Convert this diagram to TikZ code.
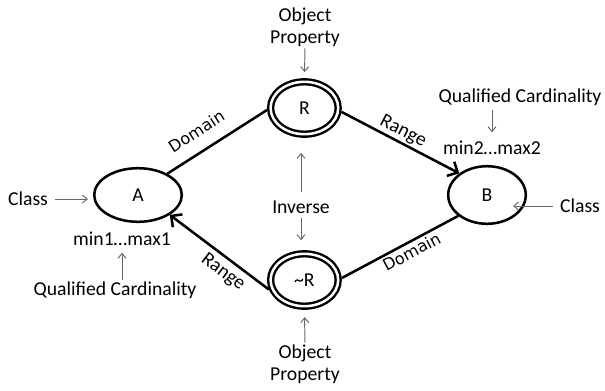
\documentclass[tikz,border=0pt]{standalone}
\usepackage{fontspec}
\setmainfont{Carlito}
\newfontfamily\dejavu{DejaVu Sans}
\usetikzlibrary{shapes.geometric, arrows.meta}
\definecolor{notegray}{RGB}{105,105,105}

\begin{document}
\begin{tikzpicture}[
  font=\fontsize{14}{16}\selectfont,
  classnode/.style={draw, ellipse, line width=1.8pt, inner sep=0pt},
  propnode/.style={draw, ellipse, double, double distance=1.8pt, line width=1.7pt, minimum width=1.69cm, minimum height=1.31cm, inner sep=0pt, outer sep=2.6pt},
  note/.style={inner sep=1pt, align=center},
  link/.style={line width=1.8pt},
  linkarrow/.style={link, -{Straight Barb[length=2mm, width=4mm]}},
  linkback/.style={link, {Straight Barb[length=2mm, width=4mm]}-},
  pointer/.style={notegray, line width=0.7pt, -{Straight Barb[length=1.2mm, width=2mm]}},
  rolelabel/.style={font=\dejavu\fontsize{11.5}{14}\selectfont, inner sep=1pt, sloped},
  rangelabel/.style={inner sep=1pt, sloped}
]
  \useasboundingbox (0,0) rectangle (15.125,-9.75);

  % Classes and properties
  \node[classnode, minimum width=2.19cm, minimum height=1.34cm] (A) at (3.45,-4.875) {A};
  \node[classnode, minimum width=1.94cm, minimum height=1.44cm] (B) at (12.175,-4.875) {B};
  \node[propnode] (R) at (7.61,-2.70) {R};
  \node[propnode] (nR) at (7.61,-7.00) {\textasciitilde R};

  % Domain and range edges
  \draw[link] (A.36) -- node[rolelabel, above=2.8mm, pos=0.4] {Domain} (R.183);
  \draw[linkarrow] (R.354) -- node[rangelabel, above=0mm, pos=0.48] {Range} (B.142);
  \draw[linkback] (A.328) -- node[rangelabel, below=0.8mm, pos=0.62] {Range} (nR.195);
  \draw[link] (nR.3) -- node[rolelabel, below=0.2mm, pos=0.56] {Domain} (B.216);

  % Annotations
  \node[note] (propTop) at (7.625,-0.675) {Object\\Property};
  \node[note] (propBot) at (7.625,-9.1) {Object\\Property};
  \node[note] (inv) at (7.525,-5.175) {Inverse};
  \node[note] (clsA) at (0.7,-4.975) {Class};
  \node[note] (clsB) at (14.5,-5.15) {Class};
  \node[note] (cardA) at (3.05,-5.975) {min1…max1};
  \node[note] (qualA) at (2.875,-7.25) {Qualified Cardinality};
  \node[note] (cardB) at (12.3,-3.7) {min2…max2};
  \node[note] (qualB) at (13.0,-2.425) {Qualified Cardinality};

  \draw[pointer, shorten >=0.15cm] (propTop) -- (R);
  \draw[pointer, shorten >=0.18cm] (propBot) -- (nR);
  \draw[pointer, shorten <=0.18cm, shorten >=0.375cm] (inv) -- (inv |- R.south);
  \draw[pointer, shorten <=0.08cm, shorten >=0.25cm] (inv) -- (inv |- nR.north);
  \draw[pointer, shorten <=0.14cm, shorten >=0.125cm] (clsA) -- (clsA -| A.west);
  \draw[pointer, shorten <=0.14cm, shorten >=0.65cm] (clsB) -- (clsB -| B);
  \draw[pointer, shorten >=0.13cm] (qualA.north -| cardA) -- (cardA);
  \draw[pointer, shorten <=0.07cm, shorten >=0.18cm] (qualB.south -| cardB) -- (cardB);
\end{tikzpicture}
\end{document}
